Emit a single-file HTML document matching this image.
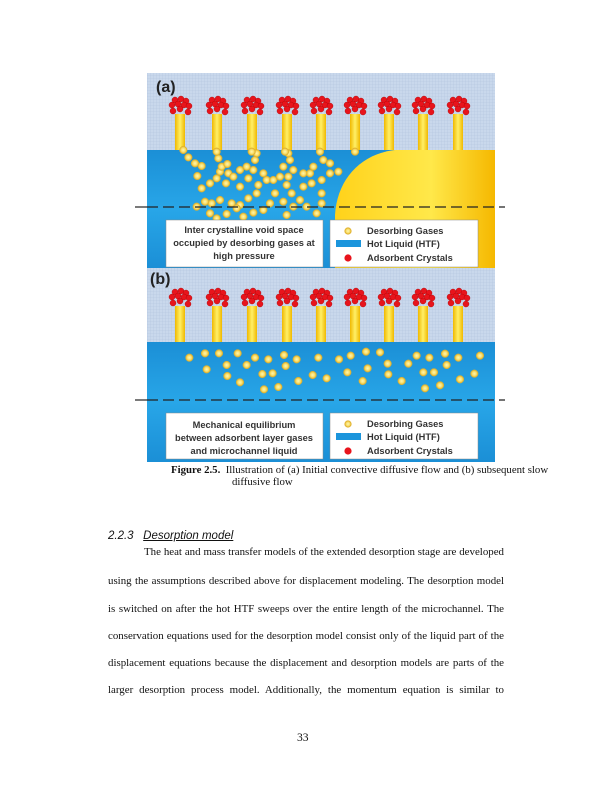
<!DOCTYPE html>
<html><head><meta charset="utf-8"><style>
body{margin:0;width:612px;height:792px;background:#fff;position:relative;font-family:"Liberation Serif",serif;color:#111}
.t{position:absolute;left:108px;width:396px;font-size:10.9px;text-align:justify;text-align-last:justify;white-space:nowrap}
</style></head><body>
<svg width="612" height="792" style="position:absolute;left:0;top:0" xmlns="http://www.w3.org/2000/svg">
<defs>
<pattern id="grid" width="3" height="3" patternUnits="userSpaceOnUse"><rect width="3" height="3" fill="#c9d8ec"/><path d="M0 0H3M0 0V3" stroke="#b2c4de" stroke-width="0.6"/></pattern>
<linearGradient id="blue" x1="0" y1="0" x2="0" y2="1"><stop offset="0" stop-color="#1b8fd6"/><stop offset="0.5" stop-color="#28a6e8"/><stop offset="1" stop-color="#1b8fd6"/></linearGradient>
<linearGradient id="stem" x1="0" y1="0" x2="1" y2="0"><stop offset="0" stop-color="#f0b800"/><stop offset="0.5" stop-color="#fff066"/><stop offset="1" stop-color="#f0b800"/></linearGradient>
<linearGradient id="blob" x1="0" y1="0" x2="1" y2="0"><stop offset="0" stop-color="#ffd21a"/><stop offset="0.6" stop-color="#ffe84a"/><stop offset="1" stop-color="#f5b800"/></linearGradient>
<radialGradient id="bub"><stop offset="0" stop-color="#fff7b0"/><stop offset="0.6" stop-color="#f8dc66"/><stop offset="1" stop-color="#d9a820"/></radialGradient>
<g id="cr" fill="#e8141c" stroke="#a00" stroke-width="0.4">
<circle cx="-5" cy="-7" r="3"/><circle cx="1" cy="-8" r="3"/><circle cx="6" cy="-6" r="3"/>
<circle cx="-8" cy="-2" r="3"/><circle cx="-2" cy="-3" r="3"/><circle cx="4" cy="-2" r="3"/><circle cx="9" cy="-1" r="3"/>
<circle cx="-7" cy="4" r="3"/><circle cx="0" cy="2" r="3"/><circle cx="8" cy="5" r="3"/>
</g>
<g id="st"><rect x="-5" y="0" width="10" height="36" fill="url(#stem)"/></g>
</defs>
<rect x="147" y="73" width="348" height="195" fill="url(#grid)"/>
<rect x="147" y="150" width="348" height="118" fill="url(#blue)"/>
<g>
<use href="#st" x="180" y="114"/><use href="#st" x="217" y="114"/><use href="#st" x="252" y="114"/><use href="#st" x="287" y="114"/><use href="#st" x="321" y="114"/><use href="#st" x="355" y="114"/><use href="#st" x="389" y="114"/><use href="#st" x="423" y="114"/><use href="#st" x="458" y="114"/>
<use href="#cr" x="180" y="107"/><use href="#cr" x="217" y="107"/><use href="#cr" x="252" y="107"/><use href="#cr" x="287" y="107"/><use href="#cr" x="321" y="107"/><use href="#cr" x="355" y="107"/><use href="#cr" x="389" y="107"/><use href="#cr" x="423" y="107"/><use href="#cr" x="458" y="107"/>
</g>
<path d="M335 268 L335 215 C337 180 360 154 395 150 L495 150 L495 268 Z" fill="url(#blob)"/>
<g fill="url(#bub)" stroke="#e0b030" stroke-width="0.5" id="ba"></g>
<line x1="147" y1="207" x2="505" y2="207" stroke="#222" stroke-width="1.2" stroke-dasharray="11,5"/>
<line x1="135" y1="207" x2="147" y2="207" stroke="#222" stroke-width="1.2"/>
<rect x="166" y="220" width="157" height="47" fill="#fff" stroke="#888" stroke-width="0.5"/>
<rect x="330" y="220" width="148" height="47" fill="#fff" stroke="#888" stroke-width="0.5"/>
<text x="156" y="92" font-family="Liberation Sans" font-weight="bold" font-size="16" fill="#222">(a)</text>
<circle cx="348" cy="231" r="3.3" fill="url(#bub)" stroke="#e0b030" stroke-width="0.6"/>
<rect x="336" y="240" width="25" height="7" fill="#1b95dc"/>
<circle cx="348" cy="258" r="3.6" fill="#e8141c"/>
<rect x="147" y="268" width="348" height="194" fill="url(#grid)"/>
<rect x="147" y="342" width="348" height="120" fill="url(#blue)"/>
<g>
<use href="#st" x="180" y="306"/><use href="#st" x="217" y="306"/><use href="#st" x="252" y="306"/><use href="#st" x="287" y="306"/><use href="#st" x="321" y="306"/><use href="#st" x="355" y="306"/><use href="#st" x="389" y="306"/><use href="#st" x="423" y="306"/><use href="#st" x="458" y="306"/>
<use href="#cr" x="180" y="299"/><use href="#cr" x="217" y="299"/><use href="#cr" x="252" y="299"/><use href="#cr" x="287" y="299"/><use href="#cr" x="321" y="299"/><use href="#cr" x="355" y="299"/><use href="#cr" x="389" y="299"/><use href="#cr" x="423" y="299"/><use href="#cr" x="458" y="299"/>
</g>
<g fill="url(#bub)" stroke="#e0b030" stroke-width="0.5" id="bb"></g>
<line x1="147" y1="400" x2="505" y2="400" stroke="#222" stroke-width="1.2" stroke-dasharray="11,5"/>
<line x1="135" y1="400" x2="147" y2="400" stroke="#222" stroke-width="1.2"/>
<rect x="166" y="413" width="157" height="46" fill="#fff" stroke="#888" stroke-width="0.5"/>
<rect x="330" y="413" width="148" height="46" fill="#fff" stroke="#888" stroke-width="0.5"/>
<text x="150" y="284" font-family="Liberation Sans" font-weight="bold" font-size="16" fill="#222">(b)</text>
<circle cx="348" cy="424" r="3.3" fill="url(#bub)" stroke="#e0b030" stroke-width="0.6"/>
<rect x="336" y="433" width="25" height="7" fill="#1b95dc"/>
<circle cx="348" cy="451" r="3.6" fill="#e8141c"/>
<g font-family="Liberation Sans" font-weight="bold" font-size="9.3" fill="#333" text-anchor="middle">
<text x="244" y="233">Inter crystalline void space</text>
<text x="244" y="246">occupied by desorbing gases at</text>
<text x="244" y="259">high pressure</text>
<text x="244" y="428">Mechanical equilibrium</text>
<text x="244" y="441">between adsorbent layer gases</text>
<text x="244" y="454">and microchannel liquid</text>
</g>
<g font-family="Liberation Sans" font-weight="bold" font-size="9.3" fill="#333">
<text x="367" y="234">Desorbing Gases</text><text x="367" y="247">Hot Liquid (HTF)</text><text x="367" y="261">Adsorbent Crystals</text>
<text x="367" y="427">Desorbing Gases</text><text x="367" y="440">Hot Liquid (HTF)</text><text x="367" y="454">Adsorbent Crystals</text>
</g>
</svg>
<script>
var A=[[130,240],[145,262],[165,280],[185,288],[172,318],[185,355],[210,340],[230,325],[240,305],[235,265],[245,290],[262,282],[265,310],[258,340],[280,320],[300,350],[300,300],[320,290],[325,325],[340,300],[345,270],[350,250],[370,310],[380,330],[355,345],[350,370],[325,385],[300,405],[275,400],[240,390],[215,400],[195,395],[170,410],[210,430],[230,445],[260,432],[290,415],[310,440],[340,428],[370,420],[390,400],[405,370],[400,330],[420,320],[430,290],[450,270],[445,250],[445,320],[440,345],[455,370],[430,395],[440,435],[460,410],[480,390],[490,350],[515,340],[510,310],[490,310],[520,290],[550,270],[570,280],[595,305],[570,310],[545,330],[545,370],[545,400],[530,430],[500,410],[460,300],[645,245],[540,245],[435,245],[335,245],[230,245]];
var B=[[148,278],[195,265],[237,265],[293,265],[345,278],[385,283],[432,270],[470,283],[535,278],[597,283],[632,272],[678,260],[720,262],[743,296],[805,296],[830,272],[868,278],[915,266],[955,278],[1020,272],[200,313],[260,300],[262,333],[320,300],[300,352],[367,327],[398,325],[437,303],[372,373],[415,366],[475,348],[518,330],[560,340],[622,322],[683,310],[668,348],[745,328],[785,348],[850,322],[882,322],[920,300],[855,370],[900,361],[960,343],[1003,326]];
function put(id,L,oy){var g=document.getElementById(id),s="";L.forEach(function(p){s+='<circle cx="'+(140+p[0]/3)+'" cy="'+(oy+p[1]/3)+'" r="3.8"/>';});g.innerHTML=s;}
put("ba",A,70);put("bb",B,265);
</script>
<div style="position:absolute;left:171px;top:464px;font-size:10.8px;line-height:12px;white-space:nowrap"><b>Figure 2.5.</b>&nbsp; Illustration of (a) Initial convective diffusive flow and (b) subsequent slow<br><span style="padding-left:61px">diffusive flow</span></div>
<div style="position:absolute;left:108px;top:530px;font-family:'Liberation Sans',sans-serif;font-style:italic;font-size:11.5px">2.2.3&nbsp;&nbsp; <u>Desorption model</u></div>
<div class="t" style="top:546px;left:144px;width:360px">The heat and mass transfer models of the extended desorption stage are developed</div>
<div class="t" style="top:575px">using the assumptions described above for displacement modeling. The desorption model</div>
<div class="t" style="top:603px">is switched on after the hot HTF sweeps over the entire length of the microchannel. The</div>
<div class="t" style="top:630px">conservation equations used for the desorption model consist only of the liquid part of the</div>
<div class="t" style="top:657px">displacement equations because the displacement and desorption models are parts of the</div>
<div class="t" style="top:684px">larger desorption process model. Additionally, the momentum equation is similar to</div>
<div style="position:absolute;left:297px;top:731px;font-size:11.6px">33</div>
</body></html>
